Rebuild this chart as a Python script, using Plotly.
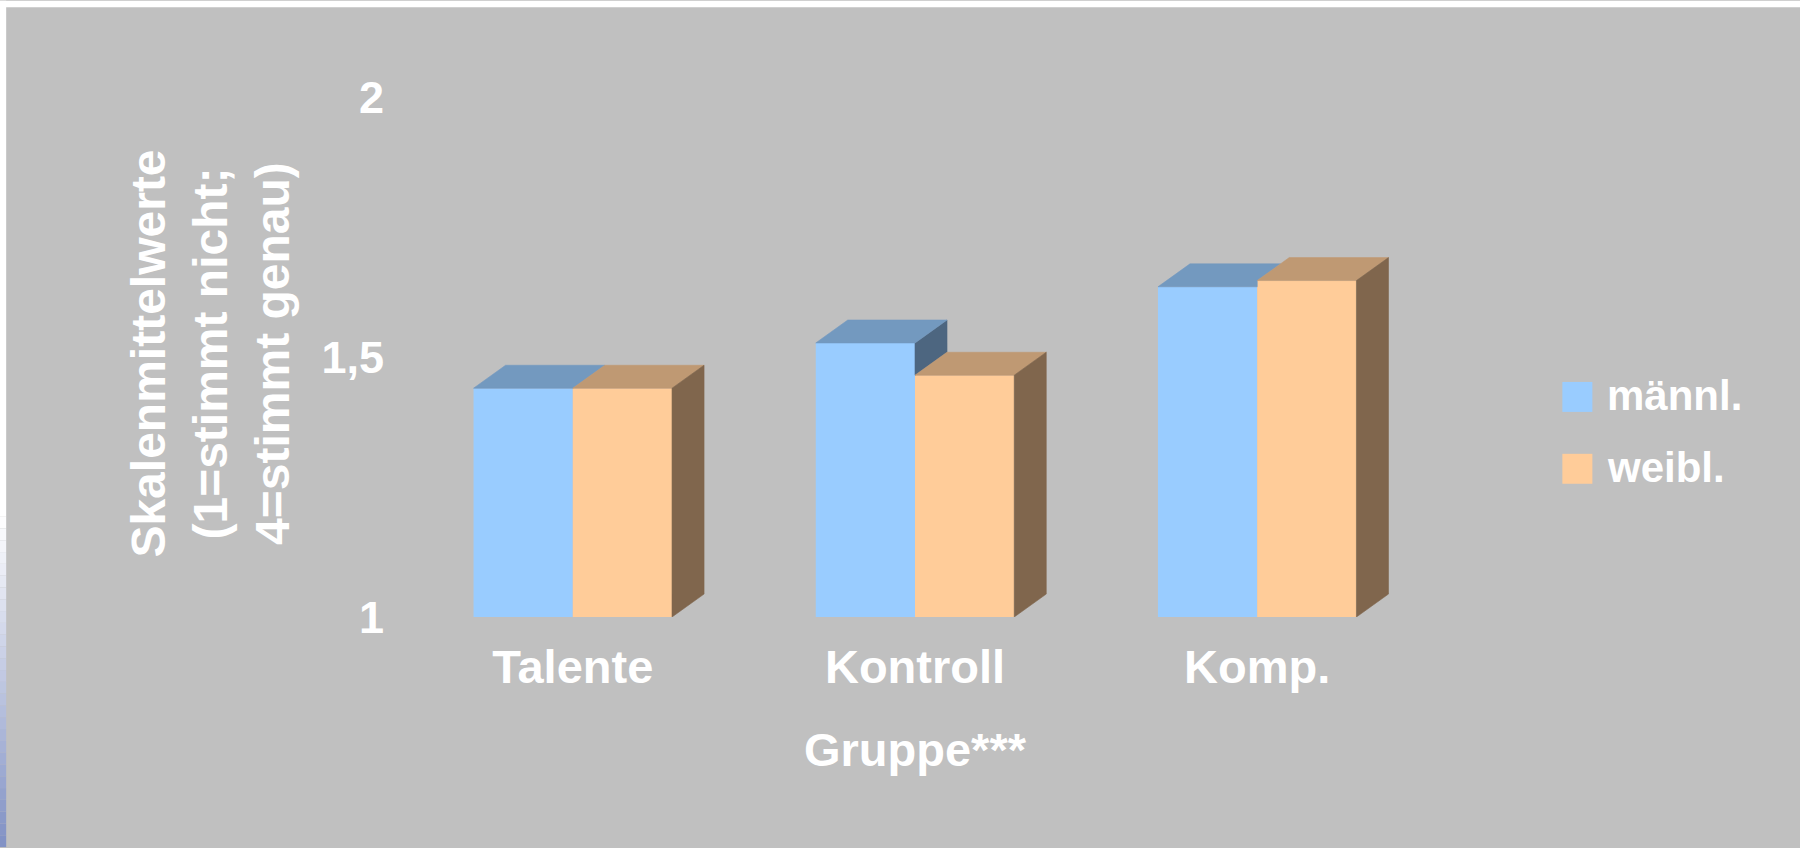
import plotly.graph_objects as go

# ---- data -------------------------------------------------------------
categories = ["Talente", "Kontroll", "Komp."]
series_names = ["männl.", "weibl."]
maennl = [1.44, 1.527, 1.635]
weibl = [1.44, 1.465, 1.647]
y_tickvals = [1, 1.5, 2]
y_ticktext = ["1", "1,5", "2"]
x_title = "Gruppe***"
y_title = "Skalenmittelwerte<br>(1=stimmt nicht;<br>4=stimmt genau)"

# ---- geometry / style --------------------------------------------------
W, H = 1800, 848
M_L, M_R, M_T, M_B = 388.3, 358.3, 96.5, 230.5
X_RANGE = [-0.54, 2.54]
Y_RANGE = [1, 2]
BAR_W = 0.29
DEPTH_PX = (32, 23)          # oblique depth of the pseudo-3D columns
BG = "#C0C0C0"
FONT = "Liberation Sans"

FRONT = ["#99CCFF", "#FFCC99"]
TOP = ["#7399BF", "#BF9973"]
SIDE = ["#4D6680", "#80664D"]

plot_w = W - M_L - M_R
plot_h = H - M_T - M_B
dx = DEPTH_PX[0] * (X_RANGE[1] - X_RANGE[0]) / plot_w
dy = DEPTH_PX[1] * (Y_RANGE[1] - Y_RANGE[0]) / plot_h
base = Y_RANGE[0]


def paper_x(px):
    return (px - M_L) / plot_w


def paper_y(py):
    return (H - M_B - py) / plot_h


def face(xs, ys, color):
    return go.Scatter(
        x=xs + [xs[0]], y=ys + [ys[0]], mode="lines", fill="toself",
        fillcolor=color, line=dict(color=color, width=0.6),
        hoverinfo="skip", showlegend=False,
    )


fig = go.Figure()

# front faces
for vals, name, col, off in [(maennl, series_names[0], FRONT[0], -BAR_W),
                             (weibl, series_names[1], FRONT[1], 0.0)]:
    fig.add_trace(go.Bar(
        x=list(range(len(categories))), y=vals, width=BAR_W, offset=off,
        marker=dict(color=col, line=dict(width=0)), name=name,
        showlegend=False,
        hovertemplate="%{customdata}<br>" + name + ": %{y}<extra></extra>",
        customdata=categories,
    ))

# top and side faces, with the parts hidden behind the right column removed
for i, (vm, vw) in enumerate(zip(maennl, weibl)):
    xl_m, xr_m = i - BAR_W, i
    xl_w, xr_w = i, i + BAR_W

    if vm > vw:
        fig.add_trace(face([xr_m, xr_m, xr_m + dx, xr_m + dx],
                           [max(vw, base), vm, vm + dy, vw + dy], SIDE[0]))

    k = min(max((vw - vm) / dy, 0.0), 1.0)
    fig.add_trace(face([xl_m, xr_m, xr_m, xr_m + (1 - k) * dx, xl_m + dx],
                       [vm, vm, vm + k * dy, vm + dy, vm + dy], TOP[0]))

    fig.add_trace(face([xl_w, xr_w, xr_w + dx, xl_w + dx],
                       [vw, vw, vw + dy, vw + dy], TOP[1]))
    fig.add_trace(face([xr_w, xr_w, xr_w + dx, xr_w + dx],
                       [base, vw, vw + dy, base + dy], SIDE[1]))

# frame: white strips at top and left, blue fade at the lower left edge
shapes = [
    dict(type="rect", xref="paper", yref="paper", layer="below",
         x0=paper_x(0), x1=paper_x(W), y0=paper_y(0), y1=paper_y(6.7),
         fillcolor="white", line=dict(width=0)),
    dict(type="rect", xref="paper", yref="paper", layer="below",
         x0=paper_x(0), x1=paper_x(6.7), y0=paper_y(0), y1=paper_y(517),
         fillcolor="white", line=dict(width=0)),
]
fade_top, fade_bottom, steps = 517, H, 28
for s in range(steps):
    t = (s + 0.5) / steps
    r = round(255 + (128 - 255) * t)
    g = round(255 + (144 - 255) * t)
    b = round(255 + (196 - 255) * t)
    y0 = fade_top + (fade_bottom - fade_top) * s / steps
    y1 = fade_top + (fade_bottom - fade_top) * (s + 1) / steps
    shapes.append(dict(type="rect", xref="paper", yref="paper", layer="below",
                       x0=paper_x(0), x1=paper_x(6.7),
                       y0=paper_y(y1), y1=paper_y(y0),
                       fillcolor=f"rgb({r},{g},{b})", line=dict(width=0)))

# legend keys
legend_rows = [(382, FRONT[0], series_names[0]), (454, FRONT[1], series_names[1])]
annotations = []
for top_px, col, name in legend_rows:
    shapes.append(dict(type="rect", xref="paper", yref="paper",
                       x0=paper_x(1562), x1=paper_x(1592),
                       y0=paper_y(top_px + 30), y1=paper_y(top_px),
                       fillcolor=col, line=dict(width=0)))
    annotations.append(dict(
        xref="paper", yref="paper", x=paper_x(1605), y=paper_y(top_px + 14),
        xanchor="left", yanchor="middle", showarrow=False, text=name,
        font=dict(family=FONT, size=42, color="white", weight="bold"),
    ))

annotations.append(dict(
    xref="paper", yref="paper", x=paper_x(211), y=paper_y(354),
    xanchor="center", yanchor="middle", showarrow=False, textangle=-90,
    text=y_title, font=dict(family=FONT, size=48, color="white", weight="bold"),
))

y_tick_font = dict(family=FONT, size=45, color="white", weight="bold")
x_tick_font = dict(family=FONT, size=47, color="white", weight="bold")
fig.update_layout(
    width=W, height=H,
    margin=dict(l=M_L, r=M_R, t=M_T, b=M_B, pad=0),
    paper_bgcolor=BG, plot_bgcolor="rgba(0,0,0,0)",
    showlegend=False,
    xaxis=dict(range=X_RANGE, tickvals=list(range(len(categories))),
               ticktext=categories, showgrid=False, zeroline=False,
               showline=False, ticks="", tickfont=x_tick_font,
               ticklabelstandoff=18, fixedrange=True,
               title=dict(text=x_title, font=x_tick_font, standoff=41)),
    yaxis=dict(range=Y_RANGE, tickvals=y_tickvals, ticktext=y_ticktext,
               showgrid=False, zeroline=False, showline=False, ticks="",
               tickfont=y_tick_font, ticklabelstandoff=3, fixedrange=True),
    shapes=shapes,
    annotations=annotations,
)

fig.write_html("out.html", config={"displayModeBar": False})
